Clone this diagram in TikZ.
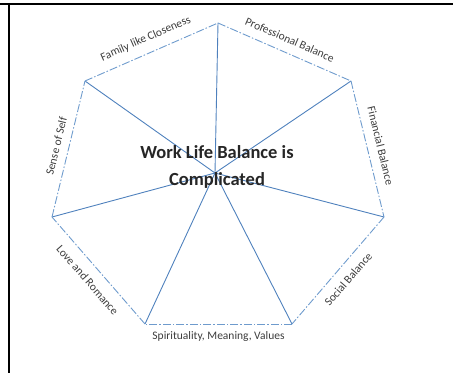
\documentclass[tikz,border=0pt]{standalone}
\usepackage{fontspec}
\setmainfont{Carlito}

\definecolor{spokeblue}{RGB}{79,129,189}
\definecolor{rimblue}{RGB}{110,155,205}
\definecolor{labelgray}{RGB}{60,60,60}

\begin{document}
\begin{tikzpicture}[x=1pt,y=1pt,
    spoke/.style={draw=spokeblue, line width=0.9pt},
    rim/.style={draw=rimblue, line width=0.9pt, dash pattern=on 8pt off 2pt on 1.5pt off 2pt},
    rimlabel/.style={font=\fontsize{11.5}{13}\selectfont, text=labelgray, sloped, inner sep=5pt}]

    % Page size, as in the scan
    \useasboundingbox (0,0) rectangle (453,373);

    % Frame of the scanned page
    \draw[line width=2pt] (0,369) -- (453,369);
    \draw[line width=1.4pt] (9,370) -- (9,0);

    % Corners of the heptagon and its centre
    \coordinate (hub) at (215,200);
    \coordinate (top) at (218,350);
    \coordinate (upright) at (351,292);
    \coordinate (right) at (384,156);
    \coordinate (lowright) at (292,49);
    \coordinate (lowleft) at (145,49);
    \coordinate (left) at (52,156);
    \coordinate (upleft) at (85,292);

    % Spokes from the centre
    \foreach \corner in {top, upright, right, lowright, lowleft, left, upleft}
        \draw[spoke] (hub) -- (\corner);

    % Outer rim with the seven areas
    \draw[rim] (upleft) -- node[rimlabel, above=4pt] {Family like Closeness} (top);
    \draw[rim] (top) -- node[rimlabel, above=4pt] {Professional Balance} (upright);
    \draw[rim] (upright) -- node[rimlabel, above=4pt] {Financial Balance} (right);
    \draw[rim] (right) -- node[rimlabel, below=4pt] {Social Balance} (lowright);
    \draw[rim] (lowright) -- node[rimlabel, below=2pt] {Spirituality, Meaning, Values} (lowleft);
    \draw[rim] (lowleft) -- node[rimlabel, below=5pt] {Love and Romance} (left);
    \draw[rim] (left) -- node[rimlabel, above=3pt] {Sense of Self} (upleft);

    % Title in the middle
    \node[align=center, font=\fontsize{18.5}{27}\selectfont\bfseries, text=black!85] (title) at (217,206) {Work Life Balance is\\Complicated};

\end{tikzpicture}
\end{document}
